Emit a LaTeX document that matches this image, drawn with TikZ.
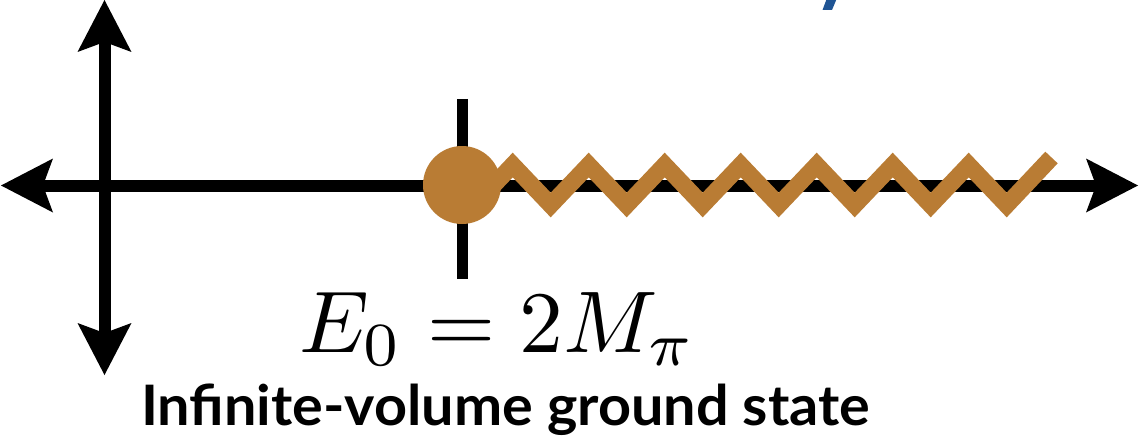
\documentclass[tikz,border=0pt]{standalone}
\usepackage{fontspec}
\usepackage{graphicx}
\usetikzlibrary{arrows.meta}
\newfontfamily\labelfont{Lato}
\definecolor{dotbrown}{RGB}{185,124,52}
\definecolor{titleblue}{RGB}{31,84,148}
\tikzset{
  axisline/.style={line width=12pt, black,
    arrows={Stealth[length=52pt,width=54pt,inset=10pt,line width=0pt]-Stealth[length=52pt,width=54pt,inset=10pt,line width=0pt]}},
  tickline/.style={line width=11pt, black},
  cutline/.style={line width=17pt, dotbrown, line join=miter, line cap=butt},
  pole/.style={circle, fill=dotbrown, minimum size=78pt, inner sep=0pt},
  plain/.style={inner sep=0pt, outer sep=0pt}
}
\begin{document}
\begin{tikzpicture}[x=1pt,y=-1pt]
\useasboundingbox (0,0) rectangle (1148,441);
% axis ends
\coordinate (hl) at (1,185.5);
\coordinate (hr) at (1138,185.5);
\coordinate (vt) at (104.5,0);
\coordinate (vb) at (104.5,375);
\coordinate (tt) at (462,99);
\coordinate (tb) at (462,279);
% axes
\draw[axisline] (hl) -- (hr);
\draw[axisline] (vt) -- (vb);
\draw[tickline] (tt) -- (tb);
% branch cut zigzag
\draw[cutline] (474.7,205)
  -- (512.7,165) -- (550.7,205) -- (588.7,165) -- (626.7,205)
  -- (664.7,165) -- (702.7,205) -- (740.7,165) -- (778.7,205)
  -- (816.7,165) -- (854.7,205) -- (892.7,165) -- (930.7,205)
  -- (968.7,165) -- (1006.7,205) -- (1051.5,157.5);
% threshold point
\node[pole] (e0) at (462,185) {};
% partial blue letter at the top
\fill[titleblue] (827,-2) -- (837,-2) -- (832,10) -- (822.5,10) -- cycle;
% labels
\node[plain, anchor=base west] (energy) at (299,352)
  {\resizebox{397pt}{!}{$E_0 = 2M_\pi$}};
\node[plain, anchor=base west] (caption) at (141,425)
  {\fontsize{55.8}{60}\selectfont\labelfont\bfseries\resizebox{729pt}{\height}{Infinite-volume ground state}};
\end{tikzpicture}
\end{document}
